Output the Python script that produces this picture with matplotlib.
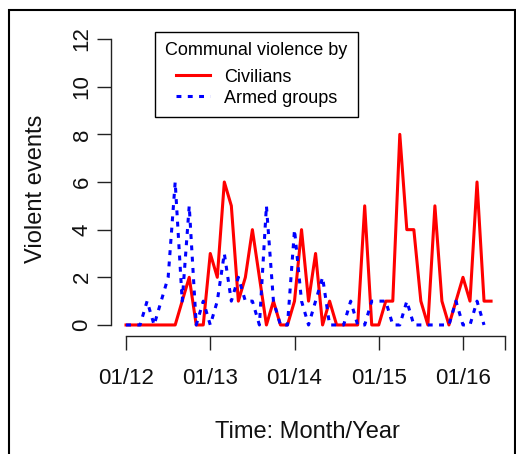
import numpy as np
import matplotlib
matplotlib.use("Agg")
import matplotlib.pyplot as plt
from matplotlib.patches import Rectangle

plt.rcParams['font.family'] = ['Liberation Sans', 'DejaVu Sans']

# monthly counts, first value = 01/2012
civilians = [0, 0, 0, 0, 0, 0, 0, 0, 1, 2,
             0, 0, 3, 2, 6, 5, 1, 2, 4, 2,
             0, 1, 0, 0, 1, 4, 1, 3, 0, 1,
             0, 0, 0, 0, 5, 0, 0, 1, 1, 8,
             4, 4, 1, 0, 5, 1, 0, 1, 2, 1,
             6, 1, 1]
armed_groups = [0, 0, 0, 1, 0, 1, 2, 6, 1, 5,
                0, 1, 0, 1, 3, 1, 2, 1, 1, 0,
                5, 1, 0, 0, 4, 1, 0, 1, 2, 0,
                0, 0, 1, 0, 0, 1, 1, 1, 0, 0,
                1, 0, 0, 0, 0, 0, 0, 1, 0, 0,
                1, 0]
tick_months = [0, 12, 24, 36, 48, 54]
tick_labels = ["01/12", "01/13", "01/14", "01/15", "01/16", ""]
y_ticks = [0, 2, 4, 6, 8, 10, 12]

W, H = 516, 454
fig = plt.figure(figsize=(W / 100, H / 100), dpi=100)
ax = fig.add_axes([110.6 / W, 1 - 336.4 / H, (508.6 - 110.6) / W, (336.4 - 27.6) / H])

ax.plot(np.arange(len(civilians)), civilians, color="#ff0000", lw=2.2,
        label="Civilians")
ax.plot(np.arange(len(armed_groups)), armed_groups, color="#0000ff", lw=2.2,
        dashes=(1.6, 2.1), label="Armed groups")

ax.set_xlim(-2.2, 54.5)
ax.set_ylim(-0.48, 12.48)

# R style axes: only left/bottom, detached ends
for s in ["top", "right"]:
    ax.spines[s].set_visible(False)
ax.spines["left"].set_bounds(0, 12)
ax.spines["bottom"].set_bounds(0, 54)
for s in ["left", "bottom"]:
    ax.spines[s].set_linewidth(1.0)
    ax.spines[s].set_color("#222222")

ax.set_xticks(tick_months)
ax.set_xticklabels(tick_labels)
ax.set_yticks(y_ticks)
ax.set_yticklabels([str(v) for v in y_ticks], rotation=90, va="center")
ax.tick_params(axis="both", length=10, width=1.0, color="#222222",
               labelsize=16, labelcolor="#111111")
ax.tick_params(axis="x", pad=12.5)
ax.tick_params(axis="y", pad=3)

fig.text(36 / W, 1 - 189 / H, "Violent events", rotation=90, ha="center",
         va="center", fontsize=17, color="#111111")
fig.text(307.5 / W, 1 - 432.5 / H, "Time: Month/Year", ha="center",
         va="center", fontsize=17, color="#111111")

leg = ax.legend(title="Communal violence by", loc="upper left",
                bbox_to_anchor=(155 / W, 1 - 31.7 / H),
                bbox_transform=fig.transFigure, borderaxespad=0,
                fontsize=13, title_fontsize=13, fancybox=False,
                framealpha=1, edgecolor="black", borderpad=0.58,
                handlelength=1.9, handletextpad=0.8, labelspacing=0.22)
leg.get_frame().set_linewidth(1.0)
# a bit more room between the title and the entries
leg._legend_box.sep = 0.53 * 13

# outer frame around the figure
fig.add_artist(Rectangle((9 / W, -0.1), (515 - 9) / W, 1.1 - 10 / H,
                         transform=fig.transFigure, fill=False,
                         edgecolor="black", lw=1.5))

fig.savefig("out.png", dpi=100)
